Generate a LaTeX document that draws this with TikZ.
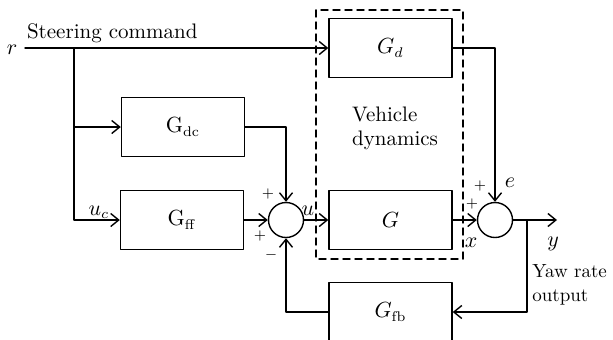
\documentclass[tikz,border=0pt]{standalone}
\usepackage{amsmath}
\usepackage{tikz}
\usetikzlibrary{arrows.meta}
\tikzstyle{block}=[draw,rectangle,line width=0.7pt,minimum width=61.5pt,minimum height=29.5pt,inner sep=0pt]
\tikzstyle{sumnode}=[draw,circle,line width=0.7pt,minimum size=17.5pt,inner sep=0pt]
\tikzstyle{wire}=[line width=0.7pt,->]
\tikzstyle{sign}=[font=\scriptsize,inner sep=0pt]

\begin{document}
\begin{tikzpicture}[line cap=round,line join=round,>={Straight Barb[length=4pt,width=6.5pt]},x=0.5pt,y=-0.5pt,font=\fontsize{10.5}{12}\selectfont]
\clip(0,0) rectangle (613,339);
% blocks
\node[block] (Gd) at (390.5,48) {$G_d$};
\node[block] (Gdc) at (183,127) {$\mathrm{G}_{\mathrm{dc}}$};
\node[block] (Gff) at (182,220) {$\mathrm{G}_{\mathrm{ff}}$};
\node[block] (G) at (390.5,220) {$G$};
\node[block] (Gfb) at (390.5,312) {$G_{\mathrm{fb}}$};
\node[sumnode] (s1) at (286,220) {};
\node[sumnode] (s2) at (495,220) {};
\coordinate (r) at (25,48);
\coordinate (br) at (74,48);
\coordinate (yout) at (557,220);
\coordinate (byaw) at (527,220);
% vehicle dynamics frame
\draw [line width=0.7pt,dash pattern=on 3.5pt off 2.5pt] (316,10) rectangle (463,259);
% connectors
\draw [wire] (r) -- (Gd.west);
\draw [wire] (br) |- (Gdc.west);
\draw [wire] (br) |- (Gff.west);
\draw [wire] (Gdc.east) -| (s1.north);
\draw [wire] (Gff.east) -- (s1.west);
\draw [wire] (s1.east) -- (G.west);
\draw [wire] (G.east) -- (s2.west);
\draw [wire] (Gd.east) -| (s2.north);
\draw [wire] (s2.east) -- (yout);
\draw [wire] (byaw) |- (Gfb.east);
\draw [wire] (Gfb.west) -| (s1.south);
% labels
\node (rlab) at (12,50) {$r$};
\node[anchor=west] (cmdlab) at (20,33) {Steering command};
\node (uclab) at (99,212) {$u_c$};
\node (ulab) at (308,211) {$u$};
\node (elab) at (510,183) {$e$};
\node (xlab) at (471,243) {$x$};
\node (ylab) at (553,244) {$y$};
\node[anchor=west,align=left,inner sep=0pt,font=\fontsize{9.5}{12}\selectfont] (yawlab) at (532,285) {Yaw rate\\output};
\node[anchor=west,align=left] (vehlab) at (345,128) {Vehicle\\dynamics};
\node[sign] (p1) at (268,194) {$+$};
\node[sign] (p2) at (260,236) {$+$};
\node[sign] (m1) at (271,255) {$-$};
\node[sign] (p3) at (480,186) {$+$};
\node[sign] (p4) at (472,204) {$+$};
\end{tikzpicture}
\end{document}
